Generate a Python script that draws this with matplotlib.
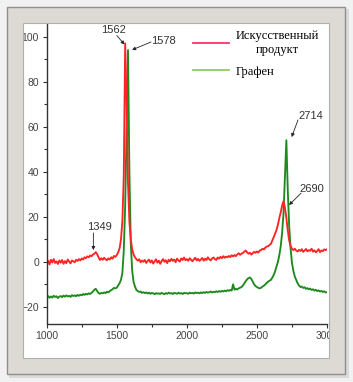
import numpy as np
import matplotlib
matplotlib.use("Agg")
import matplotlib.pyplot as plt
from matplotlib.patches import Rectangle
from matplotlib.lines import Line2D

# Raman shift grid (cm-1) and intensities
shift = np.arange(1000, 3001, 10)

artificial = [
    -0.8, 0.5, -1.2, 0.9, -0.3, 1.2, -0.5, 0.2, -1.0, 0.6,
    -0.4, 0.8, -0.9, 0.3, -0.6, 1.0, 0.1, -0.7, 0.6, 0.2,
    -0.2, 0.9, 0.4, 1.2, 0.6, 1.5, 1.0, 2.0, 1.6, 2.4,
    2.0, 2.8, 2.5, 3.2, 3.6, 4.3, 3.4, 2.0, 0.8, 1.6,
    0.9, 1.8, 1.1, 0.7, 1.5, 1.0, 2.0, 1.4, 2.6, 2.2,
    3.0, 4.2, 6.0, 10.0, 18.0, 38.0, 97.0, 70.0, 35.0, 18.0,
    10.0, 5.5, 3.2, 2.0, 1.2, 0.5, 1.1, -0.2, 0.6, 0.0,
    0.8, -0.5, 0.4, 1.0, -0.3, 0.6, -0.8, 0.2, 1.1, -0.4,
    0.5, -0.9, 0.3, 1.2, 0.0, 0.7, -0.6, 0.9, 0.2, 1.3,
    0.4, 1.0, -0.2, 1.4, 0.6, 0.1, 1.5, 0.8, 1.9, 0.7,
    1.2, 0.5, 1.6, 0.9, 0.2, 1.1, 1.8, 0.6, 1.3, 0.4,
    1.0, 1.7, 0.5, 1.4, 0.8, 2.0, 1.1, 0.6, 1.5, 1.9,
    1.2, 0.8, 1.9, 1.4, 2.2, 1.6, 2.5, 1.8, 2.3, 2.0,
    2.6, 2.1, 2.9, 2.4, 3.0, 2.5, 3.3, 3.8, 3.1, 3.6,
    3.9, 4.5, 5.0, 4.2, 3.6, 4.0, 3.2, 3.8, 4.4, 4.0,
    4.6, 4.1, 5.0, 5.2, 5.8, 5.5, 6.3, 6.8, 6.9, 7.5,
    8.0, 9.5, 11.0, 12.5, 14.2, 16.5, 19.5, 22.0, 25.0, 27.0,
    24.0, 19.5, 14.0, 9.5, 7.0, 5.8, 5.2, 5.8, 5.0, 4.6,
    5.3, 4.8, 5.6, 4.4, 5.0, 5.7, 4.6, 5.2, 4.9, 5.8,
    4.5, 5.1, 4.2, 4.8, 5.6, 4.3, 5.0, 4.7, 5.5, 5.2,
    5.6,
]

graphene = [
    -15.8, -15.2, -16.0, -15.4, -15.9, -15.1, -15.6, -15.3, -16.1, -15.5,
    -15.2, -15.7, -15.0, -15.5, -14.9, -15.4, -15.1, -15.6, -14.8, -15.2,
    -14.9, -15.3, -14.7, -15.1, -14.6, -14.9, -14.3, -14.7, -14.2, -14.5,
    -14.0, -14.3, -13.8, -13.2, -12.4, -12.0, -13.0, -13.9, -14.2, -13.8,
    -14.0, -13.6, -13.9, -13.3, -13.6, -13.0, -12.6, -12.2, -11.6, -11.8,
    -11.5, -10.5, -9.5, -8.0, -5.0, 5.0, 25.0, 60.0, 94.0, 40.0,
    8.0, -4.0, -9.0, -11.0, -12.5, -13.0, -13.4, -13.2, -13.8, -13.5,
    -13.9, -13.6, -14.1, -13.7, -14.2, -13.8, -14.0, -14.4, -13.9, -14.2,
    -14.0, -14.3, -13.8, -14.1, -14.4, -13.9, -14.2, -13.7, -14.1, -13.9,
    -14.3, -13.8, -14.0, -14.2, -13.7, -14.1, -13.9, -14.3, -13.8, -14.0,
    -13.9, -14.2, -13.7, -14.0, -13.8, -14.1, -13.6, -13.9, -13.7, -14.0,
    -13.6, -13.9, -13.5, -13.8, -13.4, -13.7, -13.5, -13.2, -13.6, -13.3,
    -13.5, -13.1, -13.4, -13.0, -13.3, -12.9, -13.2, -12.8, -13.1, -12.6,
    -12.9, -12.5, -12.8, -10.0, -12.4, -12.0, -12.3, -11.8, -11.5, -11.2,
    -10.5, -9.6, -8.6, -7.8, -7.2, -7.0, -7.6, -8.8, -10.0, -10.8,
    -11.2, -11.6, -11.8, -11.5, -11.0, -10.6, -10.0, -9.4, -8.8, -8.4,
    -8.0, -7.0, -5.8, -4.2, -2.0, 0.0, 3.0, 7.0, 13.0, 22.0,
    38.0, 54.0, 32.0, 16.0, 6.0, -0.5, -4.0, -6.5, -8.0, -9.5,
    -10.5, -11.2, -11.0, -11.6, -11.3, -12.0, -11.7, -12.2, -11.9, -12.5,
    -12.2, -12.8, -12.4, -13.0, -12.7, -13.2, -12.9, -13.4, -13.1, -13.6,
    -13.5,
]

# peak labels: text, text position, arrow tail, arrow head
peak_labels = ["1562", "1578", "1349", "2714", "2690"]
label_xy = [(1474, 103.0), (1830, 98.1), (1374, 15.4), (2882, 64.8), (2893, 32.3)]
arrow_from = [(1500, 100.5), (1744, 97.6), (1333, 12.8), (2793, 63.0), (2815, 30.5)]
arrow_to = [(1555, 96.5), (1609, 94.1), (1333, 5.2), (2748, 55.4), (2729, 25.2)]

legend_labels = ["Искусственный\nпродукт", "Графен"]

W, H = 353, 382
fig = plt.figure(figsize=(W / 100, H / 100), dpi=100, facecolor="#f1f1f1")


def box(x0, y0, x1, y1, **kw):
    # rectangle given in pixel coords (top-left origin)
    r = Rectangle((x0 / W, 1 - y1 / H), (x1 - x0) / W, (y1 - y0) / H,
                  transform=fig.transFigure, **kw)
    fig.add_artist(r)
    return r


# slide-style frame around the chart; the frame strips sit above the axes
# so they hide whatever runs past the white panel
box(9, 9, 349, 378, facecolor="#dadada", edgecolor="none", zorder=-3)
box(23, 23, 329, 358, facecolor="white", edgecolor="none", zorder=-1)
frame_col = "#dcdad3"
box(7, 7, 345, 23, facecolor=frame_col, edgecolor="none", zorder=5)
box(7, 358, 345, 374, facecolor=frame_col, edgecolor="none", zorder=5)
box(7, 7, 23, 374, facecolor=frame_col, edgecolor="none", zorder=5)
box(329, 7, 345, 374, facecolor=frame_col, edgecolor="none", zorder=5)
box(7, 7, 345, 374, facecolor="none", edgecolor="#8f8f8f", lw=1.0, zorder=6)
box(23, 23, 329, 358, facecolor="none", edgecolor="#b0b0b0", lw=0.8, zorder=6)

ax = fig.add_axes([46.7 / W, 1 - 323.5 / H, (327 - 46.7) / W, (323.5 - 24) / H])
ax.set_facecolor("none")

ax.plot(shift, graphene, color="#1e8a1e", lw=1.35)
ax.plot(shift, artificial, color="#ff2424", lw=1.35)

ax.set_xlim(1000, 3000)
ax.set_ylim(-27.4, 105.6)
ax.set_xticks([1000, 1500, 2000, 2500, 3000])
ax.set_xticks([1250, 1750, 2250, 2750], minor=True)
ax.set_yticks([-20, 0, 20, 40, 60, 80, 100])
ax.set_yticks([-10, 10, 30, 50, 70, 90], minor=True)

for s in ["top", "right"]:
    ax.spines[s].set_visible(False)
for s in ["left", "bottom"]:
    ax.spines[s].set_color("#333333")
    ax.spines[s].set_linewidth(1.0)

tick_font = ["Liberation Sans Narrow", "Liberation Sans", "DejaVu Sans"]
ax.tick_params(which="major", length=3, width=0.8, color="#333333",
               labelsize=7.5, labelcolor="#444444", pad=2.5)
ax.tick_params(which="minor", length=2, width=0.8, color="#333333")
for lab in ax.get_xticklabels() + ax.get_yticklabels():
    lab.set_family(tick_font)

ax.set_xlabel("Raman shift (cm-1)", fontsize=7, color="#777777",
              labelpad=13, family=tick_font)

for txt, pos, a, b in zip(peak_labels, label_xy, arrow_from, arrow_to):
    ax.text(pos[0], pos[1], txt, ha="center", va="center", fontsize=8,
            color="#333333", family=["Liberation Sans", "DejaVu Sans"])
    ax.annotate("", xy=b, xytext=a,
                arrowprops=dict(arrowstyle="-|>", lw=0.6, color="#222222",
                                mutation_scale=5, shrinkA=0, shrinkB=0))

handles = [Line2D([], [], color="#ff3366", lw=1.3),
           Line2D([], [], color="#8dcc6a", lw=1.3)]
leg = ax.legend(handles, legend_labels, loc="upper left",
                bbox_to_anchor=(193 / W, 1 - 30 / H),
                bbox_transform=fig.transFigure, frameon=False,
                prop={"family": ["Liberation Serif", "DejaVu Serif"], "size": 9},
                handlelength=2.9, handletextpad=0.5, labelspacing=0.8,
                borderpad=0, borderaxespad=0)
for t in leg.get_texts():
    t.set_multialignment("center")

fig.savefig("out.png", dpi=100, facecolor=fig.get_facecolor())
